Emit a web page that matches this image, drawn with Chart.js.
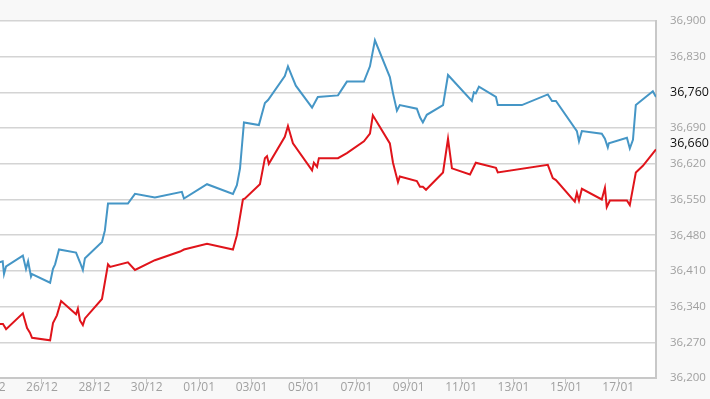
<!DOCTYPE html>
<html>
<head>
<meta charset="utf-8">
<script src="https://cdn.jsdelivr.net/npm/chart.js@4/dist/chart.umd.min.js"></script>
<style>
  html, body { margin: 0; padding: 0; overflow: hidden; background: #f8f8f8; }
  #wrap { position: absolute; left: -40px; top: 0; width: 750px; height: 399px; }
</style>
</head>
<body>
<div id="wrap"><canvas id="chart" width="750" height="399"></canvas></div>
<script>
// x values are days counted from 26/12
var tickDays = [-2, 0, 2, 4, 6, 8, 10, 12, 14, 16, 18, 20, 22];
var tickLabels = ['24/12', '26/12', '28/12', '30/12', '01/01', '03/01', '05/01',
                  '07/01', '09/01', '11/01', '13/01', '15/01', '17/01'];

var blueDays = [-1.75, -1.50, -1.45, -1.37, -0.73, -0.61, -0.53, -0.42, -0.38, 0.31,
    0.42, 0.50, 0.65, 1.30, 1.45, 1.56, 1.64, 2.29, 2.40, 2.52,
    3.28, 3.55, 4.31, 5.34, 5.42, 6.30, 7.29, 7.44, 7.56, 7.71,
    8.28, 8.51, 8.63, 9.27, 9.39, 9.54, 9.69, 10.31, 10.53, 11.30,
    11.64, 12.29, 12.52, 12.71, 13.28, 13.40, 13.55, 13.66, 14.31, 14.43,
    14.54, 14.69, 15.31, 15.50, 16.41, 16.49, 16.56, 16.68, 17.33, 17.40,
    18.32, 19.31, 19.47, 19.62, 20.42, 20.50, 20.61, 21.37, 21.49, 21.60,
    21.64, 22.33, 22.44, 22.56, 22.67, 23.32, 23.44];
var blueValues = [36425, 36429, 36404, 36419, 36440, 36414, 36429, 36399, 36404, 36387,
    36414, 36423, 36452, 36446, 36427, 36412, 36435, 36467, 36489, 36542,
    36542, 36561, 36554, 36565, 36552, 36580, 36561, 36578, 36611, 36701,
    36696, 36739, 36745, 36792, 36811, 36792, 36773, 36730, 36751, 36754,
    36781, 36781, 36811, 36862, 36790, 36758, 36724, 36735, 36728, 36711,
    36701, 36716, 36735, 36794, 36743, 36760, 36758, 36771, 36751, 36735,
    36735, 36756, 36743, 36743, 36684, 36664, 36684, 36679, 36669, 36652,
    36660, 36671, 36650, 36667, 36735, 36762, 36751];

var redDays = [-1.75, -1.49, -1.37, -0.73, -0.57, -0.46, -0.38, 0.31, 0.42, 0.57,
    0.73, 1.30, 1.37, 1.45, 1.56, 1.64, 2.29, 2.52, 2.60, 3.28,
    3.55, 4.31, 5.27, 5.42, 6.30, 7.29, 7.44, 7.67, 7.75, 8.32,
    8.51, 8.59, 8.66, 9.27, 9.39, 9.58, 10.31, 10.38, 10.50, 10.57,
    11.30, 11.64, 12.29, 12.52, 12.63, 13.28, 13.40, 13.59, 13.66, 14.31,
    14.43, 14.54, 14.66, 15.31, 15.50, 15.65, 16.34, 16.56, 17.33, 17.40,
    19.31, 19.50, 19.62, 20.34, 20.42, 20.50, 20.61, 21.37, 21.49, 21.56,
    21.68, 22.33, 22.44, 22.67, 22.94, 23.44];
var redValues = [36306, 36306, 36296, 36327, 36298, 36289, 36279, 36274, 36308, 36323,
    36351, 36325, 36336, 36313, 36304, 36317, 36355, 36423, 36418, 36427,
    36412, 36431, 36448, 36452, 36463, 36452, 36480, 36550, 36552, 36580,
    36631, 36635, 36620, 36673, 36694, 36660, 36607, 36622, 36614, 36631,
    36631, 36641, 36664, 36679, 36715, 36660, 36622, 36584, 36595, 36586,
    36575, 36575, 36569, 36603, 36669, 36611, 36599, 36622, 36612, 36603,
    36618, 36592, 36588, 36546, 36563, 36548, 36571, 36550, 36573, 36535,
    36548, 36548, 36539, 36603, 36616, 36648];

// last prices shown in black on the axis
var lastPrices = [36760, 36660];

function toPoints(xs, ys) {
    return xs.map(function (x, i) { return { x: x, y: ys[i] }; });
}

var areaFill = {
    id: 'areaFill',
    beforeDraw: function (chart) {
        var c = chart.ctx, a = chart.chartArea;
        c.save();
        c.fillStyle = '#f8f8f8';
        c.fillRect(0, 0, chart.width, chart.height);
        c.fillStyle = '#ffffff';
        c.fillRect(a.left, a.top, a.right - a.left, a.bottom - a.top);
        c.restore();
    }
};

new Chart(document.getElementById('chart').getContext('2d'), {
    type: 'line',
    data: {
        datasets: [{
            label: 'Blue',
            data: toPoints(blueDays, blueValues),
            borderColor: '#4596c6',
            borderWidth: 2,
            pointRadius: 0,
            tension: 0
        }, {
            label: 'Red',
            data: toPoints(redDays, redValues),
            borderColor: '#e0141b',
            borderWidth: 2,
            pointRadius: 0,
            tension: 0
        }]
    },
    options: {
        responsive: false,
        animation: false,
        layout: { padding: { top: 10, left: 0, right: 0, bottom: 0 } },
        plugins: { legend: { display: false }, tooltip: { enabled: false } },
        scales: {
            x: {
                type: 'linear',
                min: -3.13,
                max: 23.44,
                afterBuildTicks: function (scale) {
                    scale.ticks = tickDays.map(function (d) { return { value: d }; });
                },
                afterFit: function (scale) { scale.height = 19; },
                grid: { drawOnChartArea: false, drawTicks: true, tickLength: 6, color: '#c4c4c4' },
                border: { display: true, color: '#c8c8c8', width: 2 },
                ticks: {
                    autoSkip: false,
                    maxRotation: 0,
                    padding: -4,
                    color: '#a0a0a0',
                    font: { family: 'Open Sans', size: 12 },
                    callback: function (v) {
                        var i = tickDays.indexOf(v);
                        return i >= 0 ? tickLabels[i] : '';
                    }
                }
            },
            y: {
                position: 'right',
                min: 36200,
                max: 36900,
                afterBuildTicks: function (scale) {
                    var vals = [];
                    for (var v = 36200; v <= 36900; v += 70) vals.push(v);
                    lastPrices.forEach(function (p) { if (vals.indexOf(p) < 0) vals.push(p); });
                    vals.sort(function (a, b) { return a - b; });
                    scale.ticks = vals.map(function (v) { return { value: v }; });
                },
                afterFit: function (scale) { scale.width = 54; },
                grid: {
                    drawTicks: false,
                    lineWidth: 1.5,
                    color: function (ctx) {
                        if (!ctx.tick) return '#d4d4d4';
                        var v = ctx.tick.value;
                        return ((v - 36200) % 70 === 0) ? '#d4d4d4' : 'rgba(0,0,0,0)';
                    }
                },
                border: { display: true, color: '#c8c8c8', width: 2 },
                ticks: {
                    autoSkip: false,
                    padding: 14,
                    color: function (ctx) {
                        return lastPrices.indexOf(ctx.tick.value) >= 0 ? '#111111' : '#a0a0a0';
                    },
                    font: function (ctx) {
                        var big = ctx.tick && lastPrices.indexOf(ctx.tick.value) >= 0;
                        return { family: 'Open Sans', size: big ? 12.5 : 11.5 };
                    },
                    callback: function (v) { return v.toLocaleString('en-US'); }
                }
            }
        }
    },
    plugins: [areaFill]
});
</script>
</body>
</html>
